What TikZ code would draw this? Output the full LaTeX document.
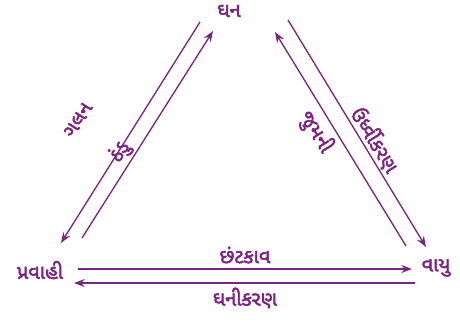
\documentclass[tikz,border=0pt]{standalone}
\usepackage{fontspec}
\newfontfamily\guj[Script=Gujarati,FakeBold=2.5]{Noto Sans Gujarati UI}
\usetikzlibrary{arrows.meta}
\definecolor{pur}{HTML}{7B2580}
\tikzset{
  lbl/.style={text=pur,font=\guj\fontsize{15}{17}\selectfont,inner sep=0pt},
  flow/.style={draw=pur,line width=1pt,-{Stealth[length=8pt,width=6pt]}}
}
\begin{document}
\begin{tikzpicture}[x=0.75pt,y=-0.75pt]
\useasboundingbox (0,0) rectangle (460,322);
\node[lbl] (solid) at (229,11) {ઘન};
\node[lbl] (liquid) at (40,270) {પ્રવાહી};
\node[lbl] (gas) at (436,268) {વાયુ};
% left pair
\coordinate (l1a) at (200,22);
\coordinate (l1b) at (61,243);
\coordinate (l2a) at (82,238);
\coordinate (l2b) at (213,31);
\draw[flow] (l1a) -- (l1b);
\draw[flow] (l2a) -- (l2b);
% right pair
\coordinate (r1a) at (288,20);
\coordinate (r1b) at (426,247);
\coordinate (r2a) at (406,246);
\coordinate (r2b) at (275,32);
\draw[flow] (r1a) -- (r1b);
\draw[flow] (r2a) -- (r2b);
% bottom pair
\coordinate (b1a) at (78,269);
\coordinate (b1b) at (412,269);
\coordinate (b2a) at (415,283);
\coordinate (b2b) at (74,283);
\draw[flow] (b1a) -- (b1b);
\draw[flow] (b2a) -- (b2b);
% edge labels
\node[lbl,rotate=57.5] (melt) at (78,120) {ગલન};
\node[lbl,rotate=57.5] (freeze) at (120,152) {ઠંડુ};
\node[lbl,rotate=-58.5] (subl) at (375,140) {ઉર્ધ્વીકરણ};
\node[lbl,rotate=-58.5] (dep) at (316,132) {જુમની};
\node[lbl] (evap) at (245,255) {છંટકાવ};
\node[lbl] (cond) at (245,298) {ઘનીકરણ};
\end{tikzpicture}
\end{document}
